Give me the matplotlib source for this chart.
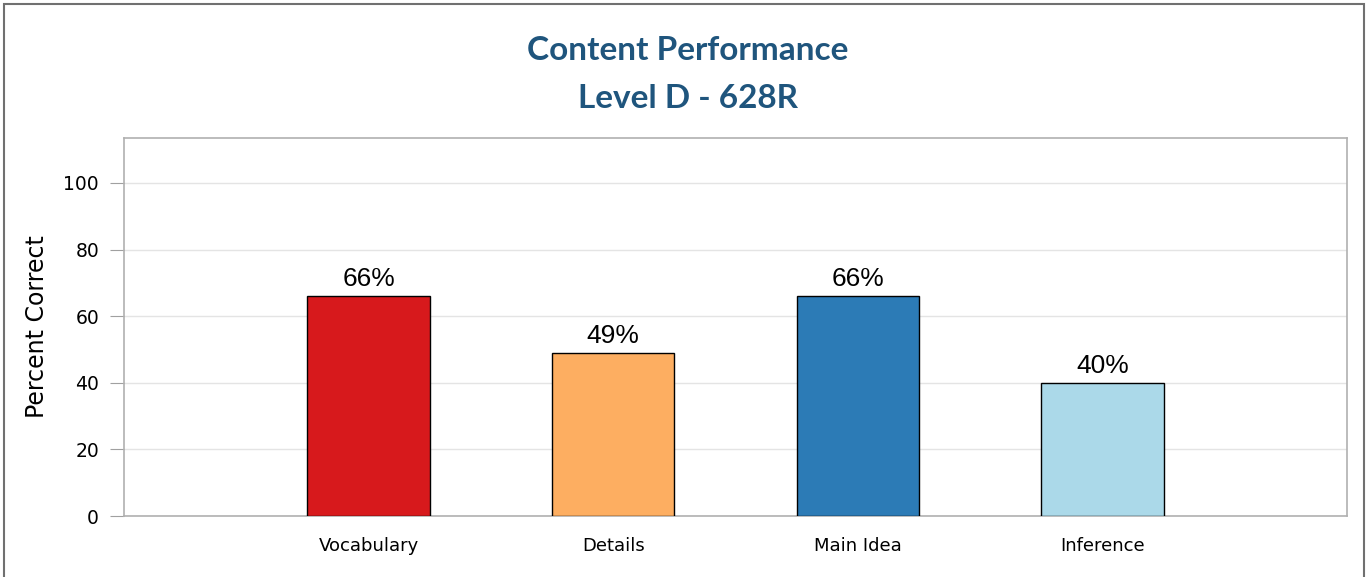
import matplotlib.pyplot as plt
from matplotlib.patches import Rectangle

categories = ['Vocabulary', 'Details', 'Main Idea', 'Inference']
percent_correct = [66, 49, 66, 40]
bar_colors = ['#d7191c', '#fdae61', '#2c7bb6', '#abd9e9']
y_ticks = [0, 20, 40, 60, 80, 100]

fig = plt.figure(figsize=(13.67, 5.77), dpi=100)
ax = fig.add_axes([124 / 1367, 1 - 516 / 577, (1347 - 124) / 1367, (516 - 138) / 577])

positions = list(range(1, len(categories) + 1))
bars = ax.bar(positions, percent_correct, width=0.5, color=bar_colors,
              edgecolor='black', linewidth=1, zorder=3)

for b, v in zip(bars, percent_correct):
    ax.text(b.get_x() + b.get_width() / 2, v + 1.5, f'{v}%', ha='center', va='bottom',
            fontsize=19, family='Liberation Sans', color='black')

ax.set_xlim(0, 5)
ax.set_ylim(0, 113.5)
ax.set_yticks(y_ticks)
ax.set_xticks(positions)
ax.set_xticklabels(categories, fontsize=13)
ax.tick_params(axis='x', length=0, pad=15)
ax.tick_params(axis='y', length=10, color='#a0a0a0', labelsize=13.5, pad=8)
ax.yaxis.grid(True, color='#e4e4e4', linewidth=1, zorder=0)
ax.set_axisbelow(True)
for s in ax.spines.values():
    s.set_color('#b0b0b0')
    s.set_linewidth(1.2)

ax.set_ylabel('Percent Correct', fontsize=17, labelpad=10)

title_font = dict(fontsize=24, fontweight='bold', color='#1f557d', family='Lato')
fig.text(688 / 1367, 1 - 50 / 577, 'Content Performance', ha='center', va='center', **title_font)
fig.text(688 / 1367, 1 - 98 / 577, 'Level D - 628R', ha='center', va='center', **title_font)

fig.patches.append(Rectangle((4 / 1367, -0.05), (1364 - 4) / 1367, 1.05 - 4 / 577,
                             transform=fig.transFigure, fill=False,
                             edgecolor='#707070', linewidth=1.5))

fig.savefig('out.png', dpi=100)
